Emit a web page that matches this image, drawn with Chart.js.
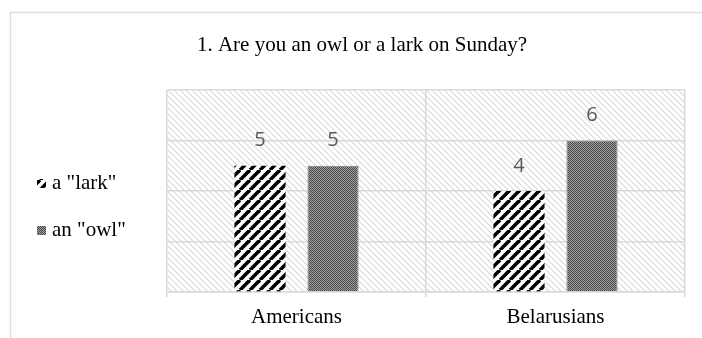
<!DOCTYPE html>
<html>
<head>
<meta charset="utf-8">
<title>Owl or lark on Sunday</title>
<script src="https://cdn.jsdelivr.net/npm/chart.js@4/dist/chart.umd.min.js"></script>
<style>
    html, body { margin: 0; padding: 0; background: #ffffff; }
    #chart-wrap { position: relative; width: 702px; height: 338px; }
</style>
</head>
<body>
<div id="chart-wrap"><canvas id="sunday-chart"></canvas></div>
<script>
const CHART_TITLE = "1. Are you an owl or a lark on Sunday?";
const CATEGORIES = ["Americans", "Belarusians"];
const SERIES_NAMES = ["a \"lark\"", "an \"owl\""];
const LARK_VALUES = [5, 4];
const OWL_VALUES = [5, 6];
const Y_MIN = 0;
const Y_MAX = 8;
const Y_STEP = 2;

const SERIF = "'Liberation Serif', 'Times New Roman', serif";
const GRID_COLOR = "#d9d9d9";

function makeTile(size, draw) {
    const tile = document.createElement("canvas");
    tile.width = size;
    tile.height = size;
    const tctx = tile.getContext("2d");
    draw(tctx, size);
    return tile;
}

function makePattern(tile) {
    return document.createElement("canvas").getContext("2d").createPattern(tile, "repeat");
}

// wide upward diagonal, black on white
const larkTile = makeTile(10, (c, s) => {
    c.fillStyle = "#ffffff";
    c.fillRect(0, 0, s, s);
    c.strokeStyle = "#000000";
    c.lineWidth = 3.6;
    for (let k = -1; k <= 1; k++) {
        c.beginPath();
        c.moveTo(k * s, s);
        c.lineTo(k * s + s, 0);
        c.stroke();
    }
});

// fine dark checker
const owlTile = makeTile(2, (c) => {
    c.fillStyle = "#a0a0a0";
    c.fillRect(0, 0, 2, 2);
    c.fillStyle = "#474747";
    c.fillRect(0, 0, 1, 1);
    c.fillRect(1, 1, 1, 1);
});

// light downward diagonal for the plot area
const plotTile = makeTile(6, (c, s) => {
    c.fillStyle = "#ffffff";
    c.fillRect(0, 0, s, s);
    c.strokeStyle = "#dadada";
    c.lineWidth = 1.2;
    for (let k = -1; k <= 1; k++) {
        c.beginPath();
        c.moveTo(k * s, 0);
        c.lineTo(k * s + s, s);
        c.stroke();
    }
});

const larkPattern = makePattern(larkTile);
const owlPattern = makePattern(owlTile);
const plotPattern = makePattern(plotTile);

const backdropPlugin = {
    id: "backdrop",
    beforeDraw(chart) {
        const { ctx, chartArea } = chart;
        ctx.save();
        ctx.strokeStyle = "#dedede";
        ctx.lineWidth = 1.5;
        ctx.strokeRect(10.5, 12.5, 900, 600);
        ctx.fillStyle = plotPattern;
        ctx.fillRect(chartArea.left, chartArea.top, chartArea.right - chartArea.left, chartArea.bottom - chartArea.top);
        ctx.restore();
    },
};

const decorPlugin = {
    id: "decor",
    afterDatasetsDraw(chart) {
        const { ctx } = chart;
        ctx.save();

        // value labels
        ctx.font = "20px 'Open Sans', sans-serif";
        ctx.fillStyle = "#595959";
        ctx.textAlign = "center";
        ctx.textBaseline = "middle";
        chart.data.datasets.forEach((dataset, di) => {
            const meta = chart.getDatasetMeta(di);
            meta.data.forEach((bar, i) => {
                ctx.fillText(String(dataset.data[i]), bar.x, bar.y - 25);
            });
        });

        // title
        ctx.font = `21px ${SERIF}`;
        ctx.fillStyle = "#000000";
        ctx.textBaseline = "alphabetic";
        ctx.fillText(CHART_TITLE, 362, 51);

        // legend
        const fills = [larkPattern, owlPattern];
        const baselines = [189, 236];
        ctx.textAlign = "left";
        SERIES_NAMES.forEach((name, i) => {
            ctx.fillStyle = fills[i];
            ctx.fillRect(37, baselines[i] - 10, 9, 9);
            ctx.fillStyle = "#000000";
            ctx.fillText(name, 52, baselines[i]);
        });

        ctx.restore();
    },
};

const ctx = document.getElementById("sunday-chart");

new Chart(ctx, {
    type: "bar",
    data: {
        labels: CATEGORIES,
        datasets: [
            {
                label: SERIES_NAMES[0],
                data: LARK_VALUES,
                backgroundColor: larkPattern,
                borderWidth: 0,
            },
            {
                label: SERIES_NAMES[1],
                data: OWL_VALUES,
                backgroundColor: owlPattern,
                borderColor: "#7a7a7a",
                borderWidth: 1,
            },
        ],
    },
    options: {
        responsive: true,
        maintainAspectRatio: false,
        animation: false,
        categoryPercentage: 0.564,
        barPercentage: 0.7,
        layout: {
            padding: { left: 167, right: 17, top: 90, bottom: 0 },
        },
        plugins: {
            legend: { display: false },
            title: { display: false },
            tooltip: { enabled: false },
        },
        scales: {
            x: {
                afterFit: (scale) => { scale.height = 46; },
                grid: {
                    offset: true,
                    color: GRID_COLOR,
                    lineWidth: 1.5,
                    tickLength: 5,
                },
                border: { display: true, color: GRID_COLOR, width: 1.5 },
                ticks: {
                    color: "#000000",
                    padding: 8,
                    font: { family: SERIF, size: 21 },
                },
            },
            y: {
                min: Y_MIN,
                max: Y_MAX,
                afterFit: (scale) => { scale.width = 0; },
                grid: {
                    color: GRID_COLOR,
                    lineWidth: 1.5,
                    drawTicks: false,
                },
                border: { display: false },
                ticks: { display: false, stepSize: Y_STEP },
            },
        },
    },
    plugins: [backdropPlugin, decorPlugin],
});
</script>
</body>
</html>
